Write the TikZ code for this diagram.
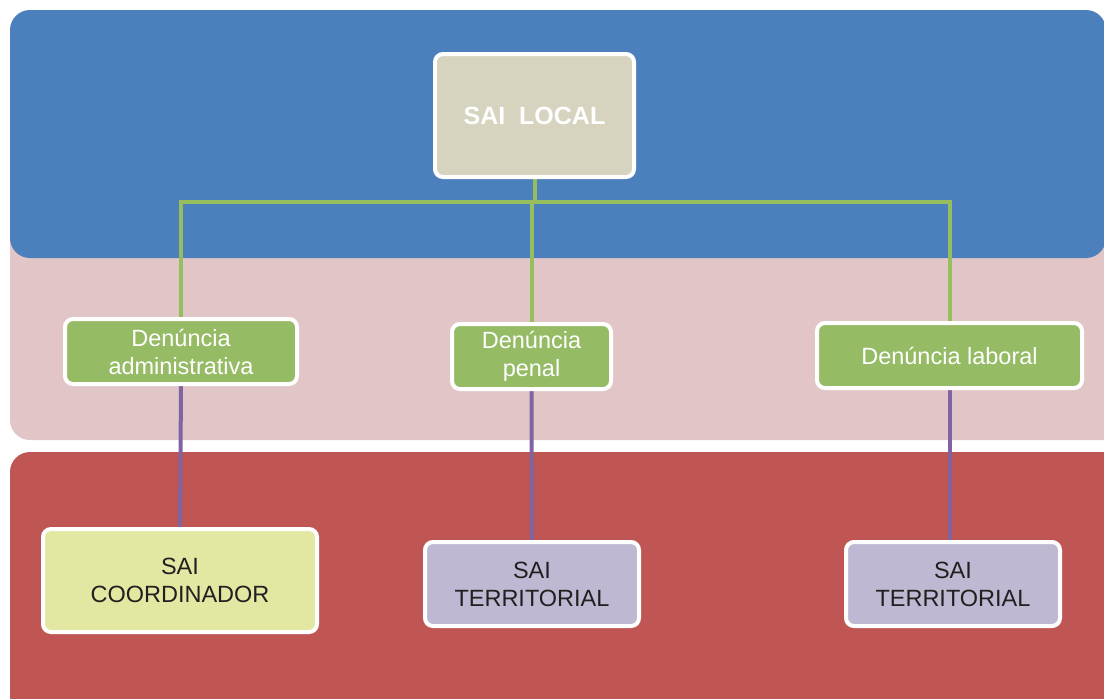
\documentclass[tikz,border=0pt]{standalone}
\usepackage{fontspec}
\setmainfont{Liberation Sans}
\usetikzlibrary{backgrounds}
\definecolor{bandblue}{RGB}{75,128,189}
\definecolor{bandpink}{RGB}{226,198,199}
\definecolor{bandred}{RGB}{192,86,83}
\definecolor{boxgreen}{RGB}{149,187,101}
\definecolor{linegreen}{RGB}{150,190,95}
\definecolor{linepurple}{RGB}{128,100,162}
\definecolor{boxpurple}{RGB}{192,184,210}
\definecolor{boxyellow}{RGB}{226,232,162}
\definecolor{boxlocal}{RGB}{214,211,190}
\definecolor{textdark}{RGB}{35,31,32}
\tikzstyle{boxbase}=[rectangle,draw=white,line width=2pt,rounded corners=4pt,inner sep=0pt,align=center,font=\fontsize{11.75}{14}\selectfont]
\tikzstyle{boxlocal}=[boxbase,fill=boxlocal,text=white,font=\fontsize{12.5}{15}\selectfont\bfseries]
\tikzstyle{boxden}=[boxbase,fill=boxgreen,text=white,minimum height=32.5pt]
\tikzstyle{boxsaiy}=[boxbase,fill=boxyellow,text=textdark]
\tikzstyle{boxsaip}=[boxbase,fill=boxpurple,text=textdark]
\tikzstyle{greenline}=[draw=linegreen,line width=2pt]
\tikzstyle{purpleline}=[draw=linepurple,line width=2pt]

\begin{document}
\begin{tikzpicture}[x=0.5pt,y=-0.5pt]
    \useasboundingbox (0,0) rectangle (1104,698);
    \clip (0,0) rectangle (1104,698);
    \node[boxlocal,minimum width=99.5pt,minimum height=61.5pt] (sailocal) at (534.5,115.5) {SAI\ \ LOCAL};
    \node[boxden,minimum width=116pt] (denadm) at (181,351.5) {Denúncia\\administrativa};
    \node[boxden,minimum width=79.5pt] (denpen) at (531.5,356.5) {Denúncia\\penal};
    \node[boxden,minimum width=132.5pt] (denlab) at (949.5,355.5) {Denúncia laboral};
    \node[boxsaiy,minimum width=137pt,minimum height=51.5pt] (saicoord) at (180,580.5) {SAI\\COORDINADOR};
    \node[boxsaip,minimum width=107pt,minimum height=42pt] (saiterr1) at (532,584) {SAI\\TERRITORIAL};
    \node[boxsaip,minimum width=107pt,minimum height=42pt] (saiterr2) at (953,584) {SAI\\TERRITORIAL};
    \coordinate (bus) at (534,202);

    \begin{pgfonlayer}{background}
    % bands
    \fill[bandred,rounded corners=10pt] (10,452) rectangle (1130,730);
    \fill[bandpink,rounded corners=10pt] (10,220) rectangle (1130,440);
    \fill[bandblue,rounded corners=10pt] (10,10) rectangle (1106,258);
    % connectors
    \draw[greenline] (sailocal.south) -- (sailocal.south |- bus);
    \draw[greenline] (denadm.north) -- (denadm.north |- bus) -- (denlab.north |- bus) -- (denlab.north);
    \draw[greenline] (denpen.north) -- (denpen.north |- bus);
    \draw[purpleline] (denadm.south) -- (saicoord.north);
    \draw[purpleline] (denpen.south) -- (saiterr1.north);
    \draw[purpleline] (denlab.south) -- (denlab.south |- saiterr2.north);
    \end{pgfonlayer}
\end{tikzpicture}
\end{document}
